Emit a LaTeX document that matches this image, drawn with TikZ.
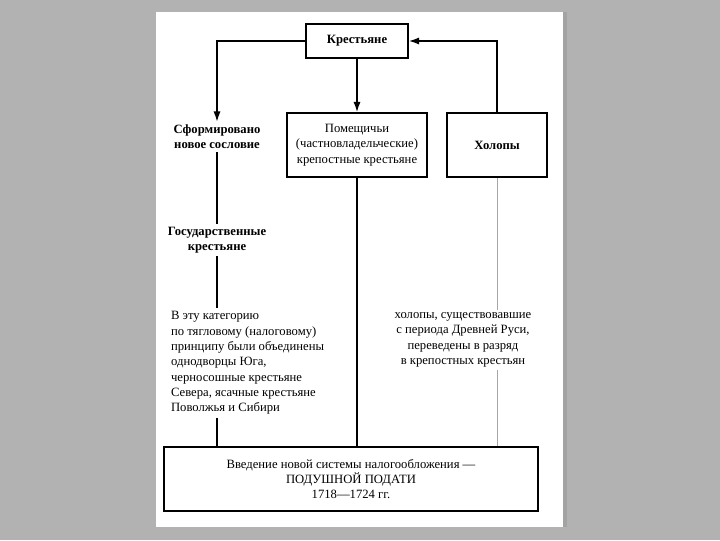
\documentclass[tikz,border=0pt]{standalone}
\usepackage{fontspec}
\setmainfont{Liberation Serif}
\usetikzlibrary{arrows.meta}
\tikzset{
  box/.style= {draw, line width=1.1pt, align=center, inner sep=2pt},
  txt/.style= {align=center, inner sep=2pt},
  link/.style= {line width=1.1pt},
  faint/.style= {line width=0.7pt, black!35},
  arr/.style= {-{Latex[length=2.6mm, width=1.8mm]}},
}

\begin{document}
\begin{tikzpicture}[x=0.025cm, y=-0.025cm, font=\fontsize{9}{10.9}\selectfont]
  % page on grey
  \fill [black!30] (0,0) rectangle (720,540) ;
  \fill [black!36] (563,12) rectangle (567,527) ;
  \fill [white] (156,12) rectangle (563,527) ;

  \node [box, minimum width=2.55cm, minimum height=0.85cm, font=\fontsize{9}{10.9}\selectfont\bfseries] (kr) at (357,41) {Крестьяне} ;
  \node [box, minimum width=3.5cm, minimum height=1.6cm] (pom) at (357,145) {Помещичьи\\(частновладельческие)\\крепостные крестьяне} ;
  \node [box, minimum width=2.5cm, minimum height=1.6cm, font=\fontsize{9}{10.9}\selectfont\bfseries] (hol) at (497,145) {Холопы} ;
  \node [txt, font=\fontsize{9}{10.9}\selectfont\bfseries] (sf) at (217,137) {Сформировано\\новое сословие} ;
  \node [txt, font=\fontsize{9}{10.9}\selectfont\bfseries] (gos) at (217,240) {Государственные\\крестьяне} ;
  \node [txt, align=left, anchor=west] (kat) at (168,363) {В эту категорию\\по тягловому (налоговому)\\принципу были объединены\\однодворцы Юга,\\черносошные крестьяне\\Севера, ясачные крестьяне\\Поволжья и Сибири} ;
  \node [txt] (rus) at (463,340) {холопы, существовавшие\\с периода Древней Руси,\\переведены в разряд\\в крепостных крестьян} ;
  \node [box, minimum width=9.35cm, minimum height=1.6cm] (pod) at (351,479) {Введение новой системы налогообложения —\\ПОДУШНОЙ ПОДАТИ\\1718—1724 гг.} ;

  \draw [link, arr] (kr.west) -| (sf.north) ;
  \draw [link, arr] (kr.south) -- (pom.north) ;
  \draw [link, arr] (hol.north) |- (kr.east) ;
  \draw [link] (sf.south) -- (gos.north) ;
  \draw [link] (gos.south) -- (gos.south |- kat.north) ;
  \draw [link] (gos |- kat.south) -- (gos |- pod.north) ;
  \draw [link] (pom.south) -- (pom.south |- pod.north) ;
  \draw [faint] (hol.south) -- (hol.south |- rus.north) ;
  \draw [faint] (hol |- rus.south) -- (hol |- pod.north) ;
\end{tikzpicture}
\end{document}
